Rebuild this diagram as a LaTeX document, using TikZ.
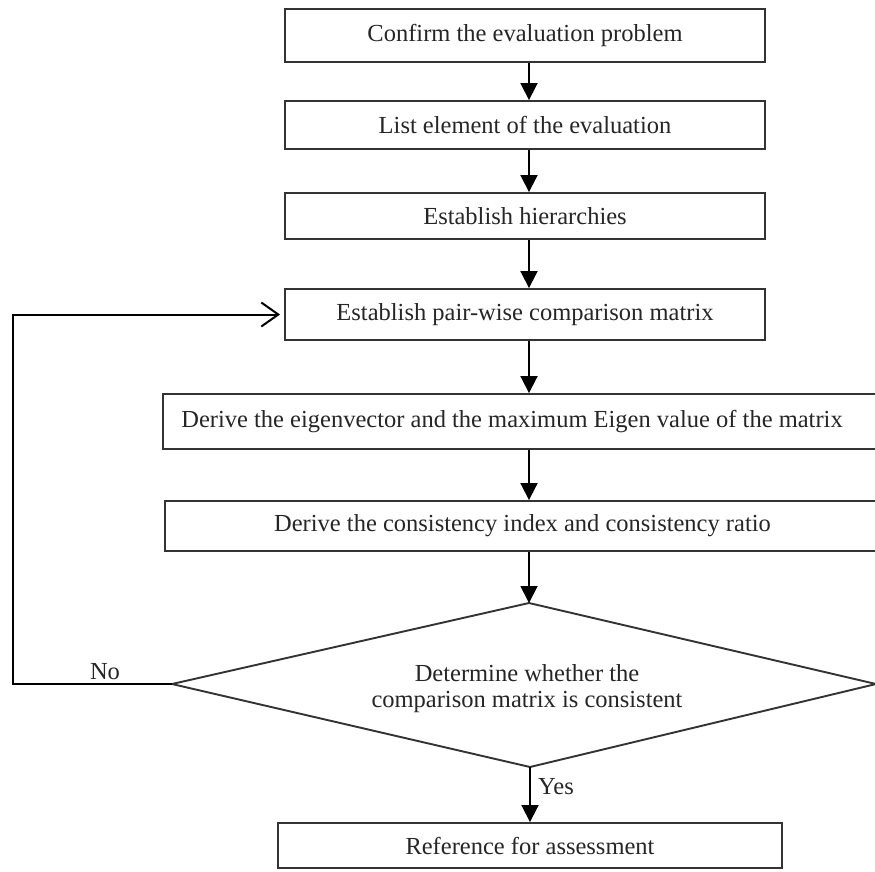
\documentclass[tikz,border=0pt]{standalone}
\usepackage{fontspec}
\setmainfont{Liberation Serif}
\usetikzlibrary{arrows.meta}
\begin{document}
\begin{tikzpicture}[x=1pt,y=-1pt,
  box/.style={draw=black!80,line width=1.9pt,rectangle,inner sep=0pt,align=center,
    font=\fontsize{24.5}{28}\selectfont,text=black!85},
  flow/.style={line width=1.9pt,-{Triangle[length=17pt,width=17pt]}},
  loopline/.style={line width=2pt,-{Straight Barb[length=17pt,width=24pt,line width=2pt]}},
  lbl/.style={font=\fontsize{24.5}{28}\selectfont,text=black!85,inner sep=0pt}]
\clip (0,0) rectangle (875,871);
\fill[white] (0,0) rectangle (875,871);
\node[box,minimum width=480pt,minimum height=53pt] (b1) at (525,35.5) {Confirm the evaluation problem};
\node[box,minimum width=480pt,minimum height=48pt] (b2) at (525,125) {List element of the evaluation};
\node[box,minimum width=480pt,minimum height=46pt] (b3) at (525,216) {Establish hierarchies};
\node[box,minimum width=480pt,minimum height=51pt] (b4) at (525,314.5) {Establish pair-wise comparison matrix};
\node[box,minimum width=717pt,minimum height=55pt] (b5) at (521.5,421.5) {Derive the eigenvector and the maximum Eigen value of the matrix\hspace*{19pt}};
\node[box,minimum width=715pt,minimum height=50pt] (b6) at (522.5,526) {Derive the consistency index and consistency ratio};
\coordinate (dT) at (529,603);
\coordinate (dL) at (172,684);
\coordinate (dR) at (876,684);
\coordinate (dB) at (530,767);
\draw[black!80,line width=1.9pt] (dT) -- (dR) -- (dB) -- (dL) -- cycle;
\node[lbl,align=center,font=\fontsize{24.5}{26}\selectfont] (dtext) at (527,689) {Determine whether the\\comparison matrix is consistent};
\node[box,minimum width=504pt,minimum height=45pt] (b7) at (530,845.5) {Reference for assessment};
\coordinate (lc) at (13,684);
\draw[flow] (b1.south -| dT) -- (b2.north -| dT);
\draw[flow] (b2.south -| dT) -- (b3.north -| dT);
\draw[flow] (b3.south -| dT) -- (b4.north -| dT);
\draw[flow] (b4.south -| dT) -- (b5.north -| dT);
\draw[flow] (b5.south -| dT) -- (b6.north -| dT);
\draw[flow] (b6.south -| dT) -- (dT);
\draw[flow] (dB) -- (b7.north -| dB);
\draw[loopline] (dL) -- (lc) |- ([xshift=-4pt]b4.west);
\node[lbl] (no) at (105,672) {No};
\node[lbl] (yes) at (556,787) {Yes};
\end{tikzpicture}
\end{document}
